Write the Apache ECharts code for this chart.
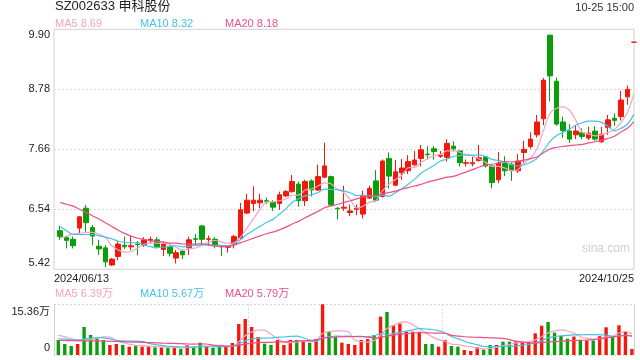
<!DOCTYPE html>
<html><head><meta charset="utf-8">
<script src="https://cdn.jsdelivr.net/npm/echarts@6/dist/echarts.min.js"></script>
<style>html,body{margin:0;padding:0;background:#fff}#c{width:640px;height:360px}</style>
</head><body><div id="c"></div>
<script>
const dates = ['2024/06/13','2024/06/14','2024/06/17','2024/06/18','2024/06/19','2024/06/20','2024/06/21','2024/06/24','2024/06/25','2024/06/26','2024/06/27','2024/06/28',
'2024/07/01','2024/07/02','2024/07/03','2024/07/04','2024/07/05','2024/07/08','2024/07/09','2024/07/10','2024/07/11','2024/07/12','2024/07/15','2024/07/16','2024/07/17','2024/07/18','2024/07/19','2024/07/22','2024/07/23','2024/07/24','2024/07/25','2024/07/26','2024/07/29','2024/07/30','2024/07/31',
'2024/08/01','2024/08/02','2024/08/05','2024/08/06','2024/08/07','2024/08/08','2024/08/09','2024/08/12','2024/08/13','2024/08/14','2024/08/15','2024/08/16','2024/08/19','2024/08/20','2024/08/21','2024/08/22','2024/08/23','2024/08/26','2024/08/27','2024/08/28','2024/08/29','2024/08/30',
'2024/09/02','2024/09/03','2024/09/04','2024/09/05','2024/09/06','2024/09/09','2024/09/10','2024/09/11','2024/09/12','2024/09/13','2024/09/18','2024/09/19','2024/09/20','2024/09/23','2024/09/24','2024/09/25','2024/09/26','2024/09/27','2024/09/30',
'2024/10/08','2024/10/09','2024/10/10','2024/10/11','2024/10/14','2024/10/15','2024/10/16','2024/10/17','2024/10/18','2024/10/21','2024/10/22','2024/10/23','2024/10/24','2024/10/25'];

const openP  = [6.14,6.01,5.98,6.19,6.56,6.20,5.85,5.82,5.50,5.66, 5.87,5.84,5.89,5.87,5.96,5.97,5.79,5.84,5.63,5.76, 5.82,5.99,6.23,5.98,5.98,5.85,5.83,5.89,6.00,6.47,
                6.65,6.66,6.70,6.67,6.65,6.79,6.87,7.01,6.70,7.07, 6.90,7.14,7.15,6.56,6.56,6.48,6.54,6.45,6.75,7.07, 6.78,7.49,6.99,7.22,7.26,7.37,7.49,7.57,7.67,7.53,
                7.51,7.72,7.63,7.40,7.39,7.45,7.52,7.35,7.09,7.40, 7.38,7.26,7.60,7.71,7.93,8.23,9.79,8.93,8.17,8.00, 7.93,7.97,7.87,8.00,7.80,8.07,8.24,8.27,8.64,9.66];
const closeP = [6.03,5.96,5.86,6.40,6.29,6.04,5.80,5.56,5.61,5.89, 5.84,5.86,5.88,5.97,5.98,5.84,5.89,5.72,5.73,5.69, 5.97,5.98,5.98,5.99,5.87,5.84,5.85,6.03,6.53,6.71,
                6.71,6.71,6.69,6.58,6.81,6.87,7.06,6.70,7.06,6.90, 7.15,7.35,6.62,6.55,6.58,6.51,6.56,6.79,6.93,6.71, 7.44,7.16,7.24,7.31,7.43,7.46,7.65,7.56,7.62,7.55,
                7.77,7.67,7.41,7.41,7.41,7.50,7.35,7.04,7.40,7.26, 7.26,7.44,7.66,7.85,8.17,8.95,9.03,8.13,8.01,7.85, 8.00,7.90,7.96,7.85,7.94,8.21,8.20,8.58,8.78,9.66];
const lowP   = [5.97,5.81,5.81,6.08,6.12,5.87,5.69,5.46,5.48,5.59, 5.80,5.78,5.68,5.84,5.91,5.81,5.67,5.66,5.53,5.61, 5.69,5.86,5.88,5.86,5.81,5.67,5.73,5.81,5.99,6.45,
                6.50,6.56,6.64,6.51,6.53,6.77,6.85,6.59,6.60,6.78, 6.88,7.12,6.60,6.35,6.51,6.41,6.43,6.37,6.73,6.68, 6.76,6.93,6.97,7.09,7.20,7.34,7.34,7.47,7.47,7.50,
                7.43,7.62,7.34,7.34,7.34,7.43,7.32,6.93,7.03,7.16, 7.07,7.22,7.41,7.67,7.88,8.11,8.55,8.10,7.87,7.78, 7.85,7.85,7.83,7.82,7.78,7.93,8.10,8.20,8.49,9.66];
const highP  = [6.23,6.04,6.03,6.41,6.62,6.25,5.97,5.87,5.63,5.94, 6.03,6.04,5.95,6.02,6.03,6.02,5.94,5.87,5.78,5.79, 6.03,6.08,6.25,6.05,6.02,5.87,5.87,6.06,6.66,6.83,
                6.97,6.83,6.76,6.71,6.87,6.90,7.18,7.06,7.09,7.10, 7.37,7.78,7.17,6.58,6.98,6.63,6.63,6.89,6.98,7.27, 7.47,7.60,7.46,7.48,7.55,7.63,7.74,7.72,7.72,7.63,
                7.85,7.81,7.63,7.47,7.52,7.74,7.53,7.37,7.61,7.53, 7.41,7.57,7.82,7.98,8.30,8.99,9.80,9.00,8.27,8.13, 8.11,8.05,8.08,8.09,8.08,8.30,8.33,8.75,8.85,9.66];
// volume, unit 万
const volume = [4.55,3.33,2.73,3.33,8.49,6.06,5.05,4.55,3.03,3.33, 3.03,2.53,2.73,2.53,2.53,2.32,2.32,2.22,2.22,1.82, 2.93,2.53,3.74,2.53,2.12,2.53,2.53,3.64,9.40,10.91,
                8.49,5.46,3.44,3.03,4.55,3.03,4.55,4.55,4.35,3.74, 4.85,15.36,7.07,5.56,3.74,3.33,3.03,4.55,4.85,6.06, 11.62,13.04,9.09,9.50,7.07,7.07,7.07,3.33,3.33,2.53,
                4.55,2.73,2.53,1.52,1.21,2.43,1.62,3.03,3.03,4.04, 4.04,4.24,4.04,4.04,6.57,8.89,10.0,6.77,5.76,4.95, 5.6,4.6,4.4,4.4,5.7,8.4,5.76,9.0,7.0,1.82];

// moving-average values visible before a full window exists
const ma5Head = [6.00,6.04,6.08,6.09];
const ma10Head = [6.22,6.14,6.07,6.07,6.07,6.07,6.05,6.02,5.99];
const ma20Head = [6.67,6.63,6.60,6.54,6.48,6.42,6.36,6.29,6.22,6.15,6.09,6.04,6.00,5.98,5.95,5.94,5.93,5.91,5.91];
const vma5Head = [6.0,5.5,4.9,4.6];
const vma10Head = [4.9,4.8,4.6,4.5,4.8,5.1,5.3,5.2,4.9];
const vma20Head = [4.4,4.4,4.35,4.3,4.3,4.3,4.25,4.2,4.15,4.1,4.0,3.95,3.9,3.85,3.75,3.7,3.6,3.55,3.5];

const xTickLabels = ['2024/06/13','2024/10/25'];
const priceMin = 5.42, priceMax = 9.90, priceStep = 1.12;
const volMax = 15.36;
const mainLegend = ['MA5 8.69','MA10 8.32','MA20 8.18'];
const volLegend = ['MA5 6.39万','MA10 5.67万','MA20 5.79万'];
const titleText = 'SZ002633 申科股份';
const timeText = '10-25 15:00';

const RED = '#f2190c', GREEN = '#0a9f0a';
const C5 = '#f7a3c2', C10 = '#45c3e6', C20 = '#ee4f86';
const FONT = 'Arial, "Liberation Sans", "Noto Sans CJK SC", sans-serif';

function ma(arr, n, head) {
  return arr.map((_, i) => {
    if (i < n - 1) return head[i];
    let s = 0; for (let k = i - n + 1; k <= i; k++) s += arr[k];
    return +(s / n).toFixed(3);
  });
}
function sign(i) {
  if (closeP[i] > openP[i]) return 1;
  if (closeP[i] < openP[i]) return -1;
  return i > 0 && closeP[i] < closeP[i - 1] ? -1 : 1;
}

const candles = dates.map((d, i) => [openP[i], closeP[i], lowP[i], highP[i]]);
const volBars = dates.map((d, i) => ({ value: volume[i], itemStyle: { color: sign(i) > 0 ? RED : GREEN } }));

const chart = echarts.init(document.getElementById('c'), null, { renderer: 'canvas' });
const dotted = { color: '#d8d8d8', type: [2, 2], width: 1 };
const near = (a, b) => Math.abs(a - b) < 1e-6;
const lineS = (name, data, color, xi, yi) => ({
  name, type: 'line', data, xAxisIndex: xi, yAxisIndex: yi, symbol: 'none', smooth: 0.3,
  lineStyle: { color, width: 1.2 }, silent: true, z: 5
});

chart.setOption({
  animation: false,
  textStyle: { fontFamily: FONT },
  grid: [
    { left: 54, right: 6, top: 29.3, height: 240, show: true, borderColor: '#d0d0d0', borderWidth: 1 },
    { left: 57, right: 3, top: 29.3, height: 240 },
    { left: 54, right: 6, top: 304.3, height: 50.7 },
    { left: 55.1, right: 4.9, top: 304.3, height: 50.7 }
  ],
  xAxis: [
    { gridIndex: 0, type: 'category', data: xTickLabels, boundaryGap: false,
      axisLine: { show: false }, axisTick: { show: false }, splitLine: { show: false },
      axisLabel: { interval: 0, margin: 4, fontSize: 11, color: '#222', fontFamily: FONT, alignMinLabel: 'left', alignMaxLabel: 'right' } },
    { gridIndex: 1, type: 'category', data: dates, boundaryGap: true, show: false },
    { gridIndex: 2, type: 'category', data: dates, show: false },
    { gridIndex: 3, type: 'category', data: dates, boundaryGap: true,
      axisLine: { show: false }, axisTick: { show: false }, axisLabel: { show: false },
      splitLine: { show: true, interval: 29, showMinLine: false, showMaxLine: false, lineStyle: dotted } }
  ],
  yAxis: [
    { gridIndex: 0, type: 'value', min: priceMin, max: priceMax, interval: priceStep,
      axisLine: { show: false }, axisTick: { show: false },
      splitLine: { show: true, showMinLine: false, showMaxLine: false, lineStyle: dotted },
      axisLabel: { margin: 4, fontSize: 11, color: '#222', fontFamily: FONT,
        formatter: v => near(v, priceMax) ? '{t|' + v.toFixed(2) + '}' : near(v, priceMin) ? '{b|' + v.toFixed(2) + '}' : v.toFixed(2),
        rich: { t: { fontSize: 11, color: '#222', fontFamily: FONT, padding: [12, 0, 0, 0] },
                b: { fontSize: 11, color: '#222', fontFamily: FONT, padding: [0, 0, 12, 0] } } } },
    { gridIndex: 1, type: 'value', min: priceMin, max: priceMax, show: false },
    { gridIndex: 2, type: 'value', min: 0, max: volMax, interval: volMax,
      axisLine: { show: true, lineStyle: { color: '#d0d0d0' } }, axisTick: { show: false },
      splitLine: { show: true, lineStyle: dotted },
      axisLabel: { margin: 4, fontSize: 11, color: '#222', fontFamily: FONT,
        formatter: v => near(v, 0) ? '{b|0}' : '{t|' + v.toFixed(2) + '万}',
        rich: { t: { fontSize: 11, color: '#222', fontFamily: FONT, padding: [15, 0, 0, 0] },
                b: { fontSize: 11, color: '#222', fontFamily: FONT, padding: [0, 0, 14, 0] } } } },
    { gridIndex: 2, type: 'value', position: 'right', min: 0, max: volMax,
      axisLine: { show: true, lineStyle: { color: '#d0d0d0' } }, axisTick: { show: false },
      axisLabel: { show: false }, splitLine: { show: false } },
    { gridIndex: 3, type: 'value', min: 0, max: volMax, show: false }
  ],
  series: [
    { type: 'candlestick', name: 'K', data: candles, xAxisIndex: 1, yAxisIndex: 1, barWidth: 5,
      itemStyle: { color: RED, color0: GREEN, borderColor: RED, borderColor0: GREEN, borderWidth: 1 }, z: 3 },
    lineS('MA5', ma(closeP, 5, ma5Head), C5, 1, 1),
    lineS('MA10', ma(closeP, 10, ma10Head), C10, 1, 1),
    lineS('MA20', ma(closeP, 20, ma20Head), C20, 1, 1),
    { type: 'bar', name: 'VOL', data: volBars, xAxisIndex: 3, yAxisIndex: 4, barWidth: 3.4 },
    lineS('VMA5', ma(volume, 5, vma5Head), C5, 3, 4),
    lineS('VMA10', ma(volume, 10, vma10Head), C10, 3, 4),
    lineS('VMA20', ma(volume, 20, vma20Head), C20, 3, 4)
  ],
  graphic: [
    { type: 'text', left: 55, top: 0, style: { text: titleText, fontSize: 13, fill: '#222', fontFamily: FONT } },
    { type: 'text', right: 6, top: 2, style: { text: timeText, fontSize: 11, fill: '#333', fontFamily: FONT } },
    { type: 'text', left: 55, top: 18, style: { text: mainLegend[0], fontSize: 11, fill: C5, fontFamily: FONT } },
    { type: 'text', left: 140, top: 18, style: { text: mainLegend[1], fontSize: 11, fill: C10, fontFamily: FONT } },
    { type: 'text', left: 225, top: 18, style: { text: mainLegend[2], fontSize: 11, fill: C20, fontFamily: FONT } },
    { type: 'text', left: 55, top: 288, style: { text: volLegend[0], fontSize: 11, fill: C5, fontFamily: FONT } },
    { type: 'text', left: 140, top: 288, style: { text: volLegend[1], fontSize: 11, fill: C10, fontFamily: FONT } },
    { type: 'text', left: 225, top: 288, style: { text: volLegend[2], fontSize: 11, fill: C20, fontFamily: FONT } },
    { type: 'text', left: 582, top: 243, style: { text: 'sina.com', fontSize: 12, fill: '#cfcfcf', fontFamily: FONT } }
  ]
});
</script></body></html>
